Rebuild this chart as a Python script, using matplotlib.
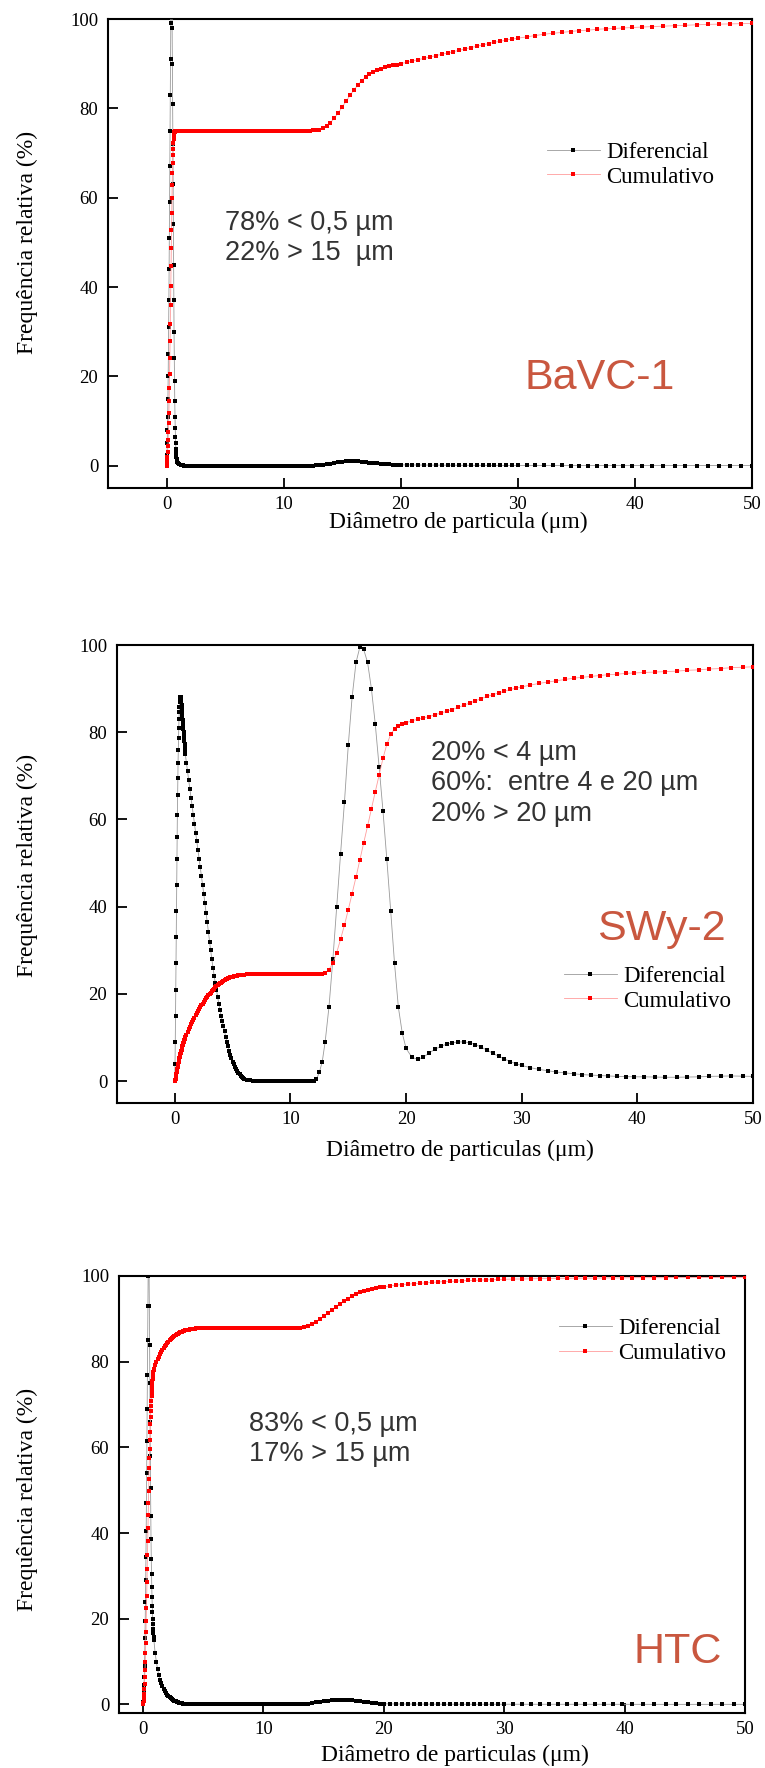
import matplotlib
matplotlib.use("Agg")
import matplotlib.pyplot as plt

W, H = 765, 1768

# shared grid of particle diameters (um)
diam = (
    [0.00, 0.02, 0.04, 0.06, 0.08, 0.10, 0.12, 0.14, 0.16, 0.18,
     0.20, 0.22, 0.24, 0.26, 0.28, 0.30, 0.32, 0.34, 0.36, 0.38,
     0.40, 0.42, 0.44, 0.46, 0.48, 0.50, 0.52, 0.54, 0.56, 0.58,
     0.60, 0.62, 0.64, 0.66, 0.68, 0.70, 0.72, 0.74, 0.76, 0.78,
     0.80, 0.82, 0.84, 0.86, 0.88, 0.90]
    + [1.0, 1.1, 1.2, 1.3, 1.4, 1.5, 1.6, 1.7, 1.8, 1.9,
       2.0, 2.1, 2.2, 2.3, 2.4, 2.5, 2.6, 2.7, 2.8, 2.9,
       3.0, 3.1, 3.2, 3.3, 3.4, 3.5, 3.6, 3.7, 3.8, 3.9,
       4.0, 4.1, 4.2, 4.3, 4.4, 4.5, 4.6, 4.7, 4.8, 4.9,
       5.0, 5.1, 5.2, 5.3, 5.4, 5.5, 5.6, 5.7, 5.8, 5.9,
       6.0]
    + [6.25, 6.50, 6.75, 7.00, 7.25, 7.50, 7.75, 8.00, 8.25, 8.50,
       8.75, 9.00, 9.25, 9.50, 9.75, 10.00, 10.25, 10.50, 10.75, 11.00,
       11.25, 11.50, 11.75, 12.00, 12.25, 12.50, 12.75, 13.00]
    + [13.33, 13.67, 14.00, 14.33, 14.67, 15.00, 15.33, 15.67, 16.00, 16.33,
       16.67, 17.00, 17.33, 17.67, 18.00, 18.33, 18.67, 19.00, 19.33, 19.67]
    + [20.0, 20.5, 21.0, 21.5, 22.0, 22.5, 23.0, 23.5, 24.0, 24.5, 25.0,
       25.5, 26.0, 26.5, 27.0, 27.5, 28.0, 28.5, 29.0, 29.5, 30.0]
    + [30.75, 31.5, 32.25, 33.0, 33.75, 34.5, 35.25, 36.0, 36.75, 37.5,
       38.25, 39.0, 39.75]
    + [40.6, 41.5, 42.4, 43.4, 44.3, 45.3, 46.2, 47.2, 48.1, 49.1, 50.0]
)

# BaVC-1
bavc_dif = (
    [0, 1, 2.5, 5, 8, 11, 15, 20, 25, 31,
     37, 44, 51, 59, 67, 75, 83, 91, 99, 106,
     110, 112, 110, 105, 98, 90, 81, 72, 63, 54,
     45, 37, 30, 24, 19, 14.5, 11, 8.5, 6.5, 5,
     3.8, 2.8, 2, 1.5, 1.1, 0.8]
    + [0.5, 0.3, 0.2, 0.1, 0.05, 0, 0, 0, 0, 0,
       0, 0, 0, 0, 0, 0, 0, 0, 0, 0,
       0, 0, 0, 0, 0, 0, 0, 0, 0, 0,
       0, 0, 0, 0, 0, 0, 0, 0, 0, 0,
       0, 0, 0, 0, 0, 0, 0, 0, 0, 0,
       0]
    + [0, 0, 0, 0, 0, 0, 0, 0, 0, 0,
       0, 0, 0, 0, 0, 0, 0, 0, 0, 0,
       0, 0, 0, 0, 0, 0.02, 0.05, 0.1]
    + [0.2, 0.3, 0.45, 0.6, 0.75, 0.85, 0.95, 1.0, 1.0, 0.95,
       0.9, 0.8, 0.7, 0.6, 0.5, 0.42, 0.35, 0.3, 0.25, 0.2]
    + [0.18, 0.16, 0.15, 0.14, 0.13, 0.12, 0.11, 0.1, 0.1, 0.09, 0.09,
       0.08, 0.08, 0.07, 0.07, 0.06, 0.06, 0.06, 0.05, 0.05, 0.05]
    + [0.05, 0.04, 0.04, 0.04, 0.04, 0.03, 0.03, 0.03, 0.03, 0.03,
       0.03, 0.03, 0.02]
    + [0.02, 0.02, 0.02, 0.02, 0.02, 0.02, 0.02, 0.02, 0.02, 0.02, 0.02]
)
bavc_cum = (
    [0, 0.2, 0.6, 1.2, 2, 3, 4.3, 5.8, 7.5, 9.5,
     11.8, 14.4, 17.3, 20.5, 24, 27.8, 31.8, 36, 40.3, 44.6,
     48.8, 52.8, 56.5, 59.9, 62.9, 65.5, 67.7, 69.5, 71, 72.2,
     73.1, 73.8, 74.3, 74.6, 74.8, 74.9, 75, 75, 75, 75,
     75, 75, 75, 75, 75, 75]
    + [75, 75, 75, 75, 75, 75, 75, 75, 75, 75,
       75, 75, 75, 75, 75, 75, 75, 75, 75, 75,
       75, 75, 75, 75, 75, 75, 75, 75, 75, 75,
       75, 75, 75, 75, 75, 75, 75, 75, 75, 75,
       75, 75, 75, 75, 75, 75, 75, 75, 75, 75,
       75]
    + [75, 75, 75, 75, 75, 75, 75, 75, 75, 75,
       75, 75, 75, 75, 75, 75, 75, 75, 75, 75,
       75, 75, 75, 75, 75, 75.05, 75.1, 75.2]
    + [75.5, 76.0, 76.8, 77.8, 79.0, 80.3, 81.6, 82.9, 84.1, 85.2,
       86.2, 87.0, 87.7, 88.2, 88.6, 88.9, 89.2, 89.4, 89.6, 89.8]
    + [90.0, 90.3, 90.6, 90.9, 91.2, 91.5, 91.8, 92.1, 92.4, 92.7, 93.0,
       93.3, 93.6, 93.9, 94.2, 94.5, 94.8, 95.0, 95.3, 95.5, 95.7]
    + [96.0, 96.3, 96.6, 96.8, 97.0, 97.2, 97.4, 97.5, 97.7, 97.8,
       97.9, 98.0, 98.1]
    + [98.2, 98.3, 98.4, 98.5, 98.6, 98.7, 98.8, 98.85, 98.9, 98.95, 99.0]
)

# SWy-2
swy_dif = (
    [0, 4, 9, 15, 21, 27, 33, 39, 45, 51,
     56, 61, 65.5, 69.5, 73, 76, 78.7, 81, 83, 84.6,
     85.9, 86.9, 87.5, 87.9, 88, 88, 87.8, 87.4, 86.9, 86.3,
     85.6, 84.9, 84.2, 83.5, 82.8, 82.1, 81.4, 80.7, 80.0, 79.3,
     78.6, 77.9, 77.2, 76.5, 75.8, 75.1]
    + [73.0, 71.0, 69.0, 67.0, 65.0, 63.0, 61.0, 59.0, 57.0, 55.0,
       53.0, 51.0, 49.0, 47.0, 45.0, 43.0, 40.8, 38.6, 36.4, 34.2,
       32.0, 30.0, 28.0, 26.0, 24.2, 22.5, 20.9, 19.3, 17.8, 16.4,
       15.0, 13.8, 12.6, 11.4, 10.2, 9.0, 8.0, 7.0, 6.1, 5.3,
       4.5, 3.9, 3.3, 2.8, 2.3, 1.9, 1.6, 1.3, 1.0, 0.8,
       0.6]
    + [0.35, 0.2, 0.1, 0.05, 0, 0, 0, 0, 0, 0,
       0, 0, 0, 0, 0, 0, 0, 0, 0, 0,
       0, 0, 0, 0.05, 0.5, 2, 4.5, 9]
    + [17, 28, 40, 52, 64, 77, 88, 96, 99.5, 99,
       96, 90, 82, 72, 62, 51, 39, 27, 17, 11]
    + [7.5, 5.5, 5.0, 5.5, 6.5, 7.3, 8.0, 8.5, 8.8, 9.0, 9.0,
       8.8, 8.4, 7.8, 7.1, 6.4, 5.7, 5.1, 4.5, 4.0, 3.6]
    + [3.1, 2.7, 2.4, 2.1, 1.9, 1.7, 1.5, 1.4, 1.3, 1.2,
       1.1, 1.05, 1.0]
    + [1.0, 0.95, 0.9, 0.9, 0.95, 1.0, 1.1, 1.15, 1.2, 1.15, 1.1]
)
swy_cum = (
    [0, 0.15, 0.35, 0.6, 0.85, 1.1, 1.4, 1.7, 2.0, 2.3,
     2.6, 2.9, 3.2, 3.5, 3.8, 4.05, 4.3, 4.55, 4.8, 5.05,
     5.3, 5.55, 5.8, 6.0, 6.2, 6.4, 6.6, 6.8, 7.0, 7.2,
     7.4, 7.6, 7.8, 8.0, 8.2, 8.4, 8.6, 8.8, 9.0, 9.15,
     9.3, 9.45, 9.6, 9.75, 9.9, 10.05]
    + [10.7, 11.3, 11.9, 12.5, 13.1, 13.6, 14.1, 14.6, 15.1, 15.6,
       16.1, 16.6, 17.0, 17.4, 17.8, 18.2, 18.6, 19.0, 19.4, 19.7,
       20.0, 20.3, 20.6, 20.9, 21.2, 21.5, 21.8, 22.0, 22.2, 22.4,
       22.6, 22.8, 23.0, 23.2, 23.35, 23.5, 23.6, 23.7, 23.8, 23.9,
       24.0, 24.05, 24.1, 24.15, 24.2, 24.25, 24.3, 24.35, 24.4, 24.4,
       24.45]
    + [24.5, 24.5, 24.5, 24.5, 24.5, 24.5, 24.5, 24.5, 24.5, 24.5,
       24.5, 24.5, 24.5, 24.5, 24.5, 24.5, 24.5, 24.5, 24.5, 24.5,
       24.5, 24.5, 24.5, 24.5, 24.5, 24.5, 24.6, 24.8]
    + [25.6, 27.0, 29.5, 32.5, 35.8, 39.3, 43.0, 46.8, 50.7, 54.6,
       58.5, 62.4, 66.3, 70.2, 74.0, 77.2, 79.5, 80.8, 81.5, 81.9]
    + [82.2, 82.6, 83.0, 83.3, 83.6, 84.0, 84.4, 84.8, 85.2, 85.7, 86.2,
       86.7, 87.2, 87.7, 88.2, 88.6, 89.0, 89.4, 89.8, 90.1, 90.4]
    + [90.8, 91.2, 91.5, 91.8, 92.1, 92.4, 92.6, 92.8, 93.0, 93.2,
       93.3, 93.5, 93.6]
    + [93.7, 93.8, 93.9, 94.0, 94.2, 94.3, 94.5, 94.6, 94.8, 94.9, 95.0]
)

# HTC
htc_dif = (
    [0, 0.6, 1.5, 2.8, 4.5, 6.5, 9, 12, 15.5, 19.5,
     24, 29, 34.5, 40.5, 47, 54, 61.5, 69, 77, 85,
     93, 100, 105, 108, 107, 101, 93, 84, 75, 66,
     58, 50.5, 44, 38.5, 34, 30.5, 27.5, 25, 23, 21.5,
     20, 18.8, 17.7, 16.7, 15.8, 15]
    + [12, 10, 8.3, 6.9, 5.8, 4.9, 4.2, 3.6, 3.1, 2.7,
       2.3, 2.0, 1.7, 1.45, 1.25, 1.05, 0.9, 0.75, 0.62, 0.5,
       0.4, 0.32, 0.25, 0.2, 0.15, 0.11, 0.08, 0.05, 0.03, 0.02,
       0, 0, 0, 0, 0, 0, 0, 0, 0, 0,
       0, 0, 0, 0, 0, 0, 0, 0, 0, 0,
       0]
    + [0, 0, 0, 0, 0, 0, 0, 0, 0, 0,
       0, 0, 0, 0, 0, 0, 0, 0, 0, 0,
       0, 0, 0, 0, 0, 0, 0, 0.05]
    + [0.1, 0.2, 0.35, 0.5, 0.65, 0.8, 0.9, 1.0, 1.05, 1.1,
       1.1, 1.05, 1.0, 0.9, 0.8, 0.65, 0.5, 0.4, 0.3, 0.2]
    + [0.15, 0.12, 0.1, 0.1, 0.09, 0.08, 0.08, 0.07, 0.07, 0.06, 0.06,
       0.05, 0.05, 0.05, 0.04, 0.04, 0.04, 0.04, 0.03, 0.03, 0.03]
    + [0.03, 0.03, 0.03, 0.03, 0.03, 0.03, 0.03, 0.03, 0.03, 0.03,
       0.03, 0.03, 0.03]
    + [0.02, 0.02, 0.02, 0.02, 0.02, 0.02, 0.02, 0.02, 0.02, 0.02, 0.02]
)
htc_cum = (
    [0, 0.3, 0.8, 1.5, 2.4, 3.5, 4.8, 6.3, 8.0, 9.9,
     12.0, 14.3, 16.8, 19.5, 22.4, 25.4, 28.5, 31.7, 34.9, 38.1,
     41.2, 44.2, 47.1, 49.9, 52.6, 55.1, 57.5, 59.7, 61.8, 63.7,
     65.4, 67.0, 68.4, 69.7, 70.9, 72.0, 73.0, 73.9, 74.7, 75.4,
     76.0, 76.6, 77.1, 77.6, 78.0, 78.4]
    + [79.2, 79.9, 80.6, 81.2, 81.8, 82.3, 82.8, 83.2, 83.6, 84.0,
       84.35, 84.7, 85.0, 85.3, 85.55, 85.8, 86.0, 86.2, 86.4, 86.55,
       86.7, 86.85, 87.0, 87.1, 87.2, 87.3, 87.4, 87.45, 87.5, 87.55,
       87.6, 87.65, 87.7, 87.7, 87.75, 87.75, 87.8, 87.8, 87.8, 87.8,
       87.8, 87.8, 87.8, 87.8, 87.8, 87.8, 87.8, 87.8, 87.8, 87.8,
       87.8]
    + [87.8, 87.8, 87.8, 87.8, 87.8, 87.8, 87.8, 87.8, 87.8, 87.8,
       87.8, 87.8, 87.8, 87.8, 87.8, 87.8, 87.8, 87.8, 87.8, 87.8,
       87.8, 87.8, 87.8, 87.8, 87.8, 87.8, 87.8, 87.9]
    + [88.1, 88.4, 88.8, 89.3, 89.9, 90.6, 91.3, 92.0, 92.7, 93.4,
       94.1, 94.7, 95.3, 95.8, 96.2, 96.5, 96.8, 97.0, 97.2, 97.35]
    + [97.5, 97.7, 97.85, 98.0, 98.1, 98.2, 98.3, 98.4, 98.5, 98.6, 98.7,
       98.75, 98.8, 98.9, 98.95, 99.0, 99.05, 99.1, 99.15, 99.2, 99.25]
    + [99.3, 99.3, 99.35, 99.4, 99.4, 99.45, 99.45, 99.5, 99.5, 99.5,
       99.55, 99.55, 99.55]
    + [99.6, 99.6, 99.6, 99.6, 99.65, 99.65, 99.65, 99.65, 99.7, 99.7, 99.7]
)

SERIF = "Liberation Serif"
SANS = "Liberation Sans"
NAME_COLOR = "#c9573f"


def px(x, y):
    return x / W, 1 - y / H


def panel(fig, box, dif, cum, xlim, ylim, xlabel, ylab_xy, xlab_xy, leg_xy,
          notes, notes_xy, name, name_xy):
    l, t, r, b = box
    ax = fig.add_axes([l / W, 1 - b / H, (r - l) / W, (b - t) / H])
    ax.plot(diam, dif, '-', color='#9a9a9a', lw=0.6, marker='s', ms=2.4,
            mfc='black', mec='black', mew=0, label='Diferencial', zorder=3)
    ax.plot(diam, cum, '-', color='#ff9c9c', lw=0.6, marker='s', ms=2.4,
            mfc='#ff0000', mec='#ff0000', mew=0, label='Cumulativo', zorder=4)
    ax.set_xlim(*xlim)
    ax.set_ylim(*ylim)
    ax.set_xticks([0, 10, 20, 30, 40, 50])
    ax.set_yticks([0, 20, 40, 60, 80, 100])
    ax.tick_params(direction='in', length=7, width=1.3, top=False,
                   right=False, labelsize=13.5)
    ax.tick_params(axis='y', pad=7)
    ax.tick_params(axis='x', pad=6)
    for lab in ax.get_xticklabels() + ax.get_yticklabels():
        lab.set_fontfamily(SERIF)
    for s in ax.spines.values():
        s.set_linewidth(1.5)

    ax.set_xlabel(xlabel, fontfamily=SERIF, fontsize=17, va='center')
    ax.set_ylabel('Frequência relativa (%)', fontfamily=SERIF, fontsize=17,
                  va='center')
    ax.xaxis.set_label_coords((xlab_xy[0] - l) / (r - l),
                              (b - xlab_xy[1]) / (b - t))
    ax.yaxis.set_label_coords((ylab_xy[0] - l) / (r - l),
                              (b - ylab_xy[1]) / (b - t))

    ax.legend(loc='upper left', bbox_to_anchor=px(*leg_xy),
              bbox_transform=fig.transFigure, frameon=False, borderpad=0,
              borderaxespad=0, handlelength=2.3, handletextpad=0.3,
              labelspacing=0.15, numpoints=1, markerscale=1.2,
              prop={'family': SERIF, 'size': 16.5})

    fig.text(*px(*notes_xy), notes, fontfamily=SANS, fontsize=19.5,
             color='#333333', ha='left', va='top', linespacing=1.22)
    fig.text(*px(*name_xy), name, fontfamily=SANS, fontsize=31,
             color=NAME_COLOR, ha='center', va='center')
    return ax


fig = plt.figure(figsize=(W / 100, H / 100), dpi=100)
fig.patch.set_facecolor('white')

panel(fig, (108, 19, 752, 488), bavc_dif, bavc_cum, (-5, 50), (-5, 100),
      'Diâmetro de particula (μm)', (27, 242), (458, 522), (547, 142),
      '78% < 0,5 µm\n22% > 15  µm', (225, 210), 'BaVC-1', (600, 378))

panel(fig, (117, 645, 753, 1103), swy_dif, swy_cum, (-5, 50), (-5, 100),
      'Diâmetro de particulas (μm)', (27, 865), (460, 1150), (564, 966),
      '20% < 4 µm\n60%:  entre 4 e 20 µm\n20% > 20 µm', (431, 740),
      'SWy-2', (661, 929))

panel(fig, (119, 1276, 745, 1713), htc_dif, htc_cum, (-2, 50), (-2, 100),
      'Diâmetro de particulas (μm)', (27, 1499), (455, 1755), (559, 1318),
      '83% < 0,5 µm\n17% > 15 µm', (249, 1411), 'HTC', (678, 1652))

fig.savefig('out.png', dpi=100)
